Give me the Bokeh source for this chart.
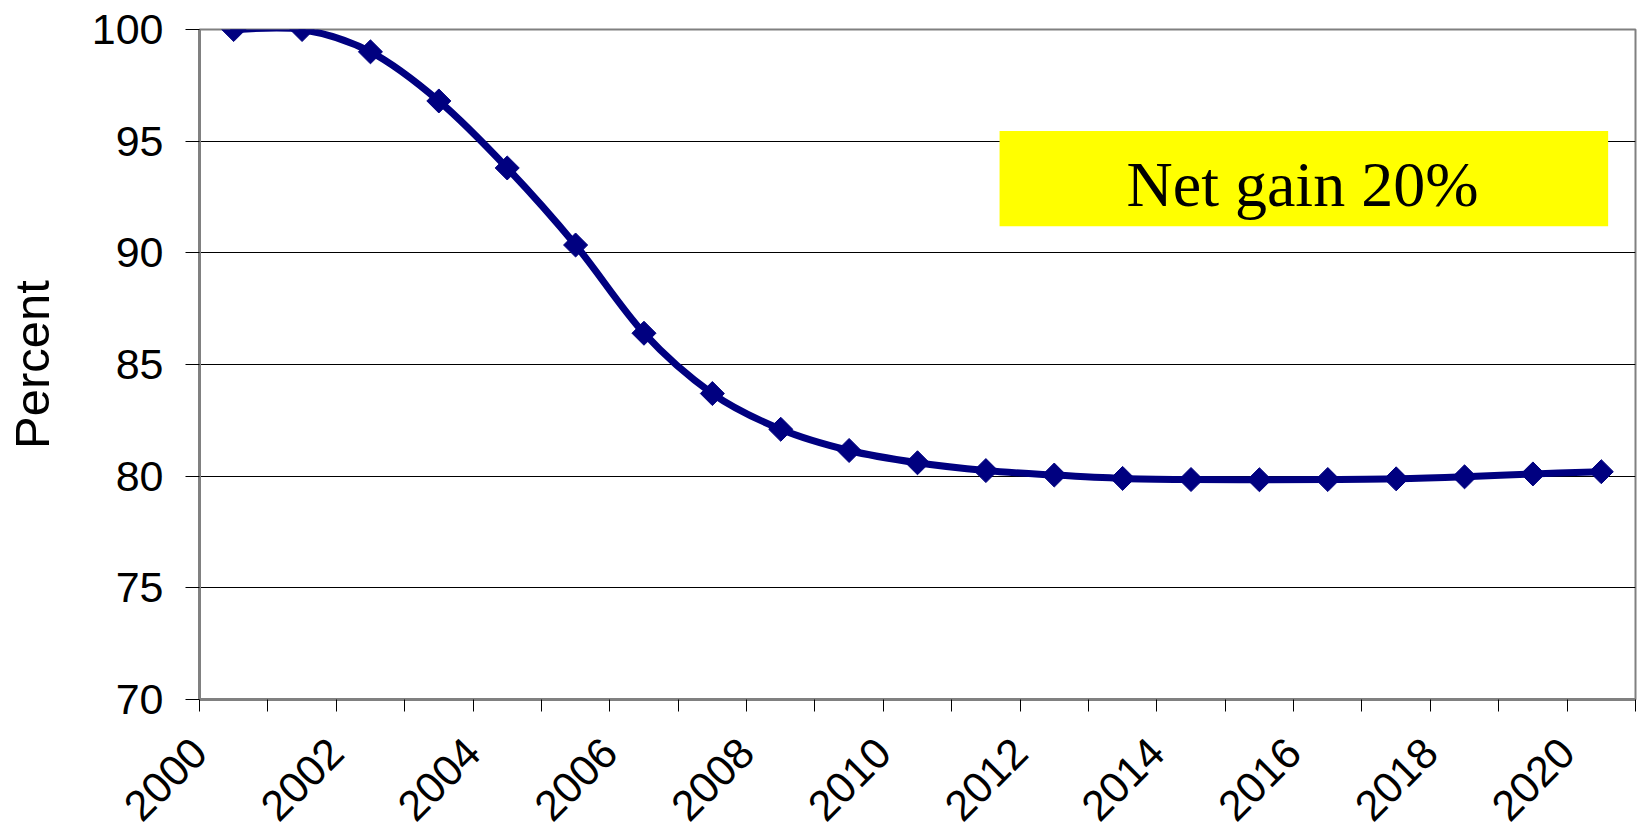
from math import pi

from bokeh.embed import file_html
from bokeh.models import BoxAnnotation, CustomJSTickFormatter, FixedTicker, Label, Range1d
from bokeh.plotting import figure
from bokeh.resources import INLINE

# Series: share (percent) by year
years = list(range(2000, 2021))
percent = [100.0, 100.0, 99.0, 96.8, 93.8, 90.35, 86.4, 83.7, 82.1, 81.15, 80.6,
           80.25, 80.05, 79.9, 79.85, 79.84, 79.85, 79.88, 79.97, 80.1, 80.2]

# Axis ticks
label_years = list(range(2000, 2021, 2))
y_ticks = [70, 75, 80, 85, 90, 95, 100]
note_text = "Net gain 20%"

NAVY = "#000080"
FRAME_GREY = "#808080"

p = figure(
    width=1640, height=836,
    output_backend="svg", toolbar_location=None,
    x_range=Range1d(years[0] - 0.5, years[-1] + 0.5),
    y_range=Range1d(70, 100),
    min_border_left=199, min_border_right=5,
    min_border_top=29, min_border_bottom=137,
)
p.background_fill_color = "white"
p.border_fill_color = "white"
p.outline_line_color = FRAME_GREY
p.outline_line_width = 2

# Smoothed line: cubic Bezier segments with Catmull-Rom control points
n = len(years)
x0, y0, x1, y1, cx0, cy0, cx1, cy1 = [], [], [], [], [], [], [], []
for i in range(n - 1):
    ip = max(i - 1, 0)
    inn = min(i + 2, n - 1)
    x0.append(years[i]); y0.append(percent[i])
    x1.append(years[i + 1]); y1.append(percent[i + 1])
    cx0.append(years[i] + (years[i + 1] - years[ip]) / 6.0)
    cy0.append(percent[i] + (percent[i + 1] - percent[ip]) / 6.0)
    cx1.append(years[i + 1] - (years[inn] - years[i]) / 6.0)
    cy1.append(percent[i + 1] - (percent[inn] - percent[i]) / 6.0)

p.bezier(x0=x0, y0=y0, x1=x1, y1=y1, cx0=cx0, cy0=cy0, cx1=cx1, cy1=cy1,
         line_color=NAVY, line_width=7, line_cap="round")
p.scatter(years, percent, marker="square", angle=pi / 4, size=17,
          fill_color=NAVY, line_color=NAVY, line_width=1)

# Highlight box with note
p.add_layout(BoxAnnotation(left=2011.2, right=2020.1, bottom=91.19, top=95.46,
                           fill_color="#FFFF00", fill_alpha=1.0, line_color=None))
p.add_layout(Label(x=2015.63, y=93.08, text=note_text, text_align="center",
                   text_baseline="alphabetic", text_font="Liberation Serif",
                   text_font_size="64px", text_color="black"))

# Grid
p.xgrid.grid_line_color = None
p.ygrid.grid_line_color = "black"
p.ygrid.grid_line_width = 1

# Y axis
p.yaxis.ticker = FixedTicker(ticks=y_ticks)
p.yaxis.axis_line_color = FRAME_GREY
p.yaxis.axis_line_width = 3
p.yaxis.major_tick_out = 14
p.yaxis.major_tick_in = 0
p.yaxis.major_tick_line_color = "black"
p.yaxis.minor_tick_line_color = None
p.yaxis.major_label_standoff = 22
p.yaxis.major_label_text_font = "Liberation Sans"
p.yaxis.major_label_text_font_size = "43px"
p.yaxis.major_label_text_color = "black"
p.yaxis.axis_label = "Percent"
p.yaxis.axis_label_text_font = "Liberation Sans"
p.yaxis.axis_label_text_font_size = "49px"
p.yaxis.axis_label_text_font_style = "normal"
p.yaxis.axis_label_text_color = "black"
p.yaxis.axis_label_standoff = 30

# X axis: labels on every other year (text ending just left of the year),
# tick marks between years
p.xaxis.ticker = FixedTicker(ticks=[y - 0.5 for y in label_years],
                             minor_ticks=[y - 0.5 for y in years] + [years[-1] + 0.5])
p.xaxis.formatter = CustomJSTickFormatter(code="return (tick + 0.5).toFixed(0);")
p.xaxis.axis_line_color = FRAME_GREY
p.xaxis.axis_line_width = 3
p.xaxis.major_tick_out = 0
p.xaxis.major_tick_in = 0
p.xaxis.minor_tick_out = 12
p.xaxis.minor_tick_in = 0
p.xaxis.minor_tick_line_color = "black"
p.xaxis.major_label_orientation = pi / 4
p.xaxis.major_label_standoff = 34
p.xaxis.major_label_text_font = "Liberation Sans"
p.xaxis.major_label_text_font_size = "43px"
p.xaxis.major_label_text_line_height = 1.0
p.xaxis.major_label_text_color = "black"

open("out.html", "w").write(file_html(p, INLINE))
